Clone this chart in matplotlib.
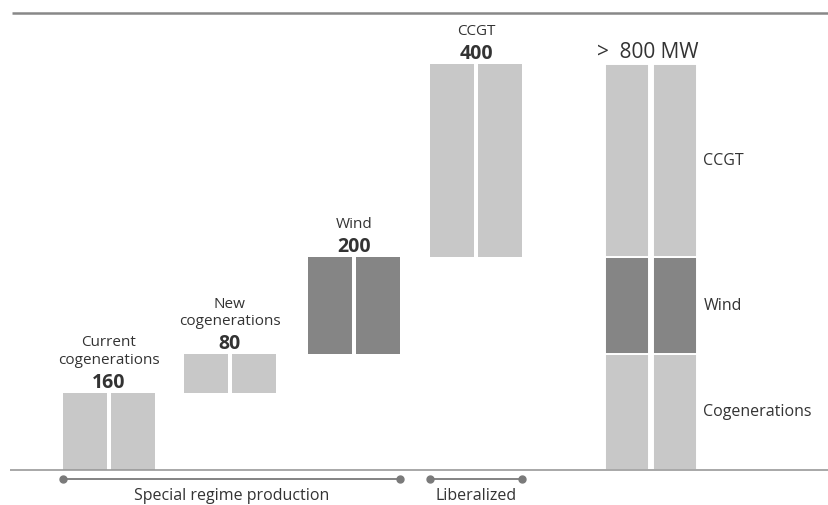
import numpy as np
import matplotlib.pyplot as plt

plt.rcParams['font.family'] = ['Open Sans', 'DejaVu Sans']

# waterfall steps
step_labels = ['Current\ncogenerations', 'New\ncogenerations', 'Wind', 'CCGT']
step_values = [160, 80, 200, 400]
step_colors = ['#c8c8c8', '#c8c8c8', '#858585', '#c8c8c8']

# final stacked total
total_label = '>  800 MW'
total_parts = ['Cogenerations', 'Wind', 'CCGT']
total_values = [240, 200, 400]
total_colors = ['#c8c8c8', '#858585', '#c8c8c8']

groups = ['Special regime production', 'Liberalized']
group_members = [[0, 1, 2], [3]]

xpos = [0, 0.99, 2.01, 3.01, 4.44]
half_w = 0.36
gap = 0.033
txt = '#333333'

fig = plt.figure(figsize=(8.29, 5.05), dpi=100)
ax = fig.add_axes([0, 0, 1, 1])
ax.set_xlim(-0.893, 5.902)
ax.set_ylim(-72.5, 973)
ax.axis('off')

offs = [-(half_w + gap) / 2, (half_w + gap) / 2]
bottoms = np.concatenate([[0], np.cumsum(step_values)[:-1]])
for i, (v, b, c) in enumerate(zip(step_values, bottoms, step_colors)):
    for o in offs:
        ax.bar(xpos[i] + o, v, half_w, bottom=b, color=c, linewidth=0)
    top = b + v
    ax.annotate(str(v), (xpos[i], top), xytext=(0, 0), textcoords='offset points',
                ha='center', va='bottom', fontsize=14, fontweight='bold', color=txt)
    ax.annotate(step_labels[i], (xpos[i], top), xytext=(0, 18), textcoords='offset points',
                ha='center', va='bottom', fontsize=11, color=txt, linespacing=1.2)

tb = np.concatenate([[0], np.cumsum(total_values)[:-1]])
xt = xpos[-1]
for v, b, c, name in zip(total_values, tb, total_colors, total_parts):
    for o in offs:
        ax.bar(xt + o, v, half_w, bottom=b, color=c, edgecolor='white', linewidth=1.4)
    ax.text(xt + half_w + gap + 0.04, b + v / 2, name, ha='left', va='center',
            fontsize=11.5, color=txt)
ax.annotate(total_label, (xt, sum(total_values)), xytext=(-2, 1), textcoords='offset points',
            ha='center', va='bottom', fontsize=15, color=txt)

# axis lines
ax.plot([-0.81, 5.902], [0, 0], color='#999999', lw=1.2, solid_capstyle='butt')
ax.plot([-0.795, 5.902], [947, 947], color='#888888', lw=1.8, solid_capstyle='butt')

# group brackets
for name, mem in zip(groups, group_members):
    x0 = xpos[mem[0]] - half_w - gap / 2
    x1 = xpos[mem[-1]] + half_w + gap / 2
    ax.plot([x0, x1], [-18.6, -18.6], color='#7a7a7a', lw=1.3, marker='o', ms=5)
    ax.text((x0 + x1) / 2, -54, name, ha='center', va='center', fontsize=11.5, color=txt)

fig.savefig('out.png', dpi=100)
